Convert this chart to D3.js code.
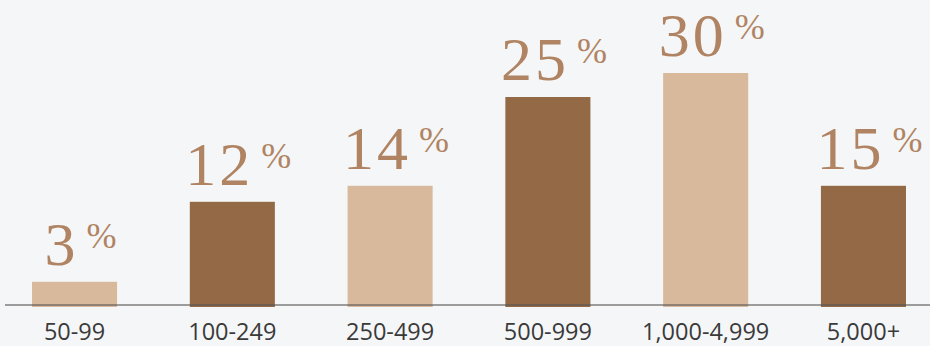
<!DOCTYPE html>
<html>
<head>
<meta charset="utf-8">
<script src="https://cdn.jsdelivr.net/npm/d3@7"></script>
<style>
  html, body { margin: 0; padding: 0; background: #f5f6f8; }
  svg { display: block; }
</style>
</head>
<body>
<svg id="chart" width="930" height="346"></svg>
<script>
const categories = ["50-99", "100-249", "250-499", "500-999", "1,000-4,999", "5,000+"];
const percentLabels = [3, 12, 14, 25, 30, 15];
// bar heights as drawn in the reference (estimated)
const barValues = [2.9, 12.9, 14.9, 26.0, 29.0, 14.9];
const barColors = ["#d8b99c", "#936946"];

const W = 930, H = 346, baseY = 305;
const svg = d3.select("#chart");
svg.append("rect").attr("width", W).attr("height", H).attr("fill", "#f5f6f8");

const x = d3.scaleBand().domain(categories).range([0, 938]).paddingInner(0.461).paddingOuter(0.203);
const y = d3.scaleLinear().domain([0, 29]).range([baseY, 73]);

svg.selectAll("rect.bar").data(categories).join("rect")
  .attr("class", "bar")
  .attr("x", d => x(d))
  .attr("width", x.bandwidth())
  .attr("y", (d, i) => y(barValues[i]))
  .attr("height", (d, i) => y(0) - y(barValues[i]) + 2)
  .attr("fill", (d, i) => barColors[i % 2]);

svg.append("line")
  .attr("x1", 5).attr("x2", W).attr("y1", baseY).attr("y2", baseY)
  .attr("stroke", "#555").attr("stroke-opacity", 0.75).attr("stroke-width", 1.5);

const lbl = svg.selectAll("text.val").data(categories).join("text")
  .attr("class", "val")
  .attr("x", (d, i) => x(d) + x.bandwidth() / 2 + 6)
  .attr("y", (d, i) => y(barValues[i]) - 17)
  .attr("text-anchor", "middle")
  .attr("fill", "#b08462")
  .style("font-family", "'Liberation Serif', serif");
lbl.append("tspan").style("font-size", "62px").style("letter-spacing", "3px")
  .text((d, i) => percentLabels[i]);
lbl.append("tspan").style("font-size", "36px").attr("dx", 8).attr("dy", -17).text("%");

svg.append("g").selectAll("text").data(categories).join("text")
  .attr("x", d => x(d) + x.bandwidth() / 2)
  .attr("y", 340)
  .attr("text-anchor", "middle")
  .attr("fill", "#3a3a3a")
  .style("font-family", "'Open Sans', sans-serif")
  .style("font-size", "23.5px")
  .text(d => d);
</script>
</body>
</html>
